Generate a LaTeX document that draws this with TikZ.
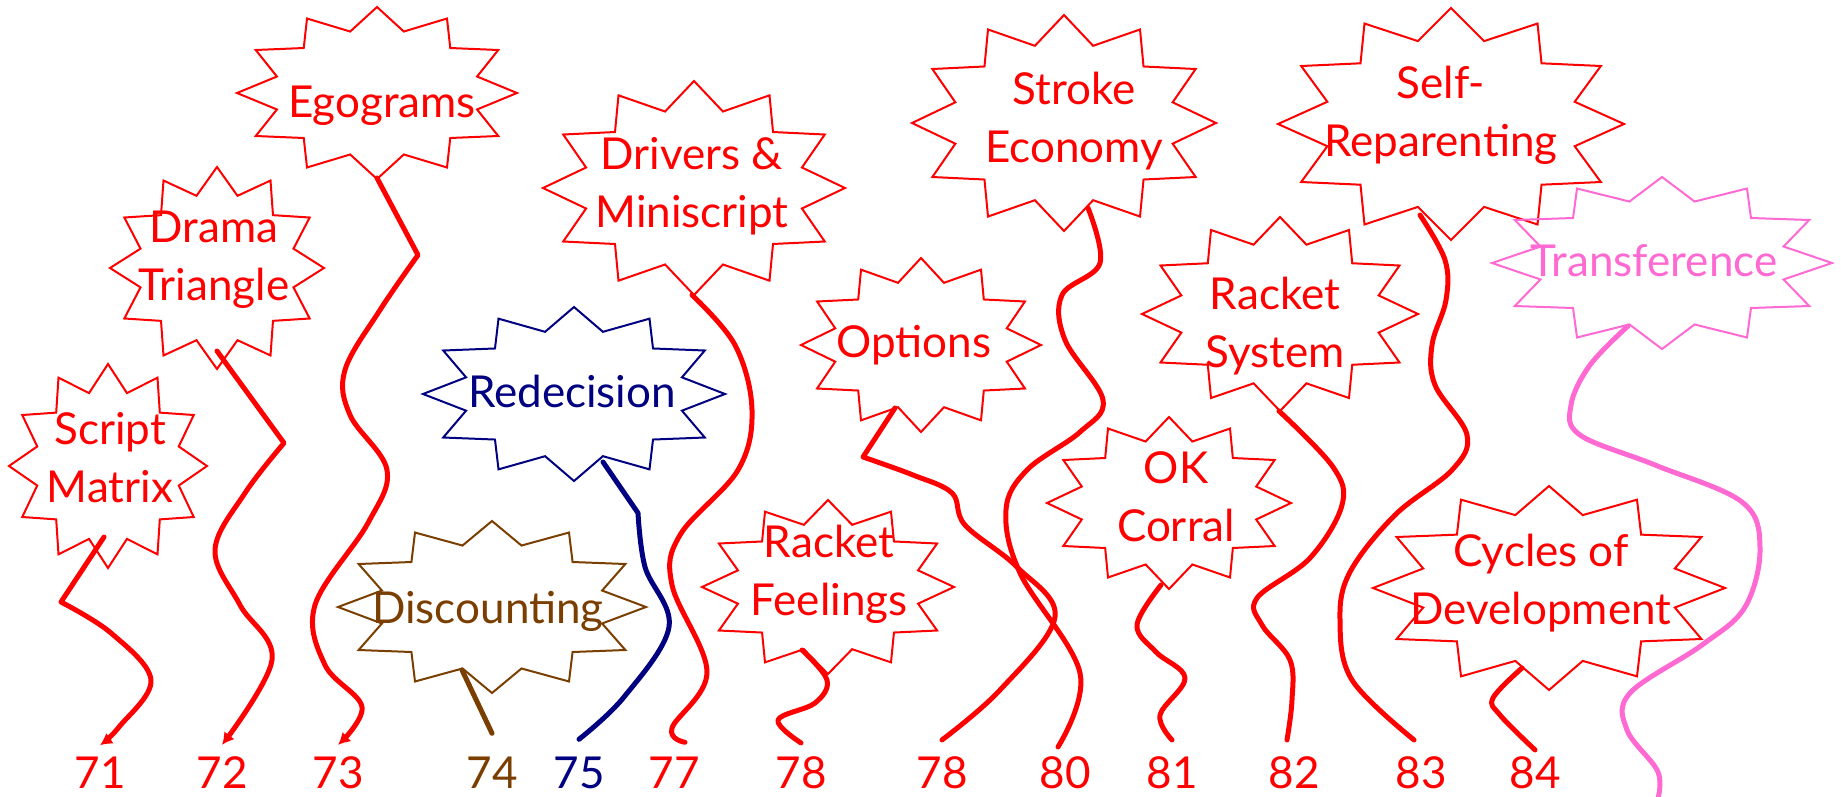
\documentclass[tikz,border=0pt]{standalone}
\usepackage{fontspec}
\setmainfont{Lato}
\usetikzlibrary{arrows.meta}

\definecolor{navyblue}{RGB}{0,0,128}
\definecolor{rustbrown}{RGB}{122,62,0}
\definecolor{candypink}{RGB}{255,105,210}

\tikzset{
  burstline/.style={line width=2pt, line join=miter},
  tail/.style={line width=5pt, line cap=round, line join=round},
  arrowed/.style={-{Latex[length=12pt,width=13pt]}},
  burstlbl/.style={font=\fontsize{44}{58}\selectfont, align=center, anchor=base, inner sep=0pt},
  num/.style={font=\fontsize{44}{52}\selectfont, anchor=base, inner sep=0pt}
}

% twelve point burst: centre, x radius, y radius, colour
\newcommand{\burst}[4]{%
  \draw[burstline, #4, shift={(#1)}] (0:#2 and #3)
    \foreach \a in {15,45,...,345} {-- (\a:0.74*#2 and 0.74*#3) -- (\a+15:#2 and #3)} -- cycle;}

\begin{document}
\begin{tikzpicture}[x=1pt, y=-1pt]
  \useasboundingbox (0,0) rectangle (1841,796);

  % bursts
  \burst{108,466}{99}{102}{red}
  \burst{217,268}{107}{101}{red}
  \burst{377,93}{140}{86}{red}
  \burst{492,607}{154}{86}{rustbrown}
  \burst{574,394}{151}{87}{navyblue}
  \burst{694,188}{151}{107}{red}
  \burst{828,587}{126}{87}{red}
  \burst{921,345}{120}{87}{red}
  \burst{1064,123}{152}{108}{red}
  \burst{1169,503}{122}{86}{red}
  \burst{1280,314}{138}{97}{red}
  \burst{1451,124}{173}{116}{red}
  \burst{1549,588}{176}{102}{red}
  \burst{1662,263}{170}{86}{candypink}

  % texts (anchored on the last baseline)
  \node[burstlbl, red] (sm) at (110,502) {Script\\Matrix};
  \node[burstlbl, red] (dt) at (214,300) {Drama\\Triangle};
  \node[burstlbl, red] (eg) at (382,117) {Egograms};
  \node[burstlbl, rustbrown] (dc) at (488,623) {Discounting};
  \node[burstlbl, navyblue] (rd) at (572,407) {Redecision};
  \node[burstlbl, red] (dm) at (692,227) {Drivers \&\\Miniscript};
  \node[burstlbl, red] (rf) at (829,615) {Racket\\Feelings};
  \node[burstlbl, red] (op) at (914,357) {Options};
  \node[burstlbl, red] (se) at (1074,162) {Stroke\\Economy};
  \node[burstlbl, red] (ok) at (1176,541) {OK\\Corral};
  \node[burstlbl, red] (rs) at (1275,367) {Racket\\System};
  \node[burstlbl, red] (sr) at (1441,156) {Self-\\Reparenting};
  \node[burstlbl, red] (cd) at (1541,624) {Cycles of\\Development};
  \node[burstlbl, candypink] (tr) at (1654,276) {Transference};

  % page numbers
  \node[num, red] (n71) at (100,788) {71};
  \node[num, red] (n72) at (222,788) {72};
  \node[num, red] (n73) at (338,788) {73};
  \node[num, rustbrown] (n74) at (492,788) {74};
  \node[num, navyblue] (n75) at (579,788) {75};
  \node[num, red] (n77) at (674,788) {77};
  \node[num, red] (n78a) at (801,788) {78};
  \node[num, red] (n78b) at (942,788) {78};
  \node[num, red] (n80) at (1065,788) {80};
  \node[num, red] (n81) at (1172,788) {81};
  \node[num, red] (n82) at (1294,788) {82};
  \node[num, red] (n83) at (1421,788) {83};
  \node[num, red] (n84) at (1535,788) {84};

  % tail starts
  \coordinate (sm-t) at (104,537);
  \coordinate (dt-t) at (217,351);
  \coordinate (eg-t) at (377,178);
  \coordinate (dc-t) at (462,670);
  \coordinate (rd-t) at (603,462);
  \coordinate (dm-t) at (692,295);
  \coordinate (rf-t) at (802,650);
  \coordinate (op-t) at (895,408);
  \coordinate (se-t) at (1088,208);
  \coordinate (ok-t) at (1161,585);
  \coordinate (rs-t) at (1279,411);
  \coordinate (sr-t) at (1420,215);
  \coordinate (cd-t) at (1522,668);
  \coordinate (tr-t) at (1628,326);
  \coordinate (tr-end) at (1657,802);

  % tails
  \draw[tail, arrowed, red] (sm-t) -- (61,602) --plot[smooth, tension=0.6] coordinates
    {(61,602) (111,633) (151,680) (119,727) ([yshift=11pt]n71.north)};
  \draw[tail, arrowed, red] (dt-t) -- (284,443) --plot[smooth, tension=0.6] coordinates
    {(284,443) (245,493) (215,550) (240,605) (272,660) ([yshift=11pt]n72.north)};
  \draw[tail, arrowed, red] (eg-t) -- (418,255) --plot[smooth, tension=0.6] coordinates
    {(418,255) (380,310) (345,370) (350,415) (387,470) (368,523) (315,605) (325,665) (362,707) ([yshift=11pt]n73.north)};
  \draw[tail, rustbrown] (dc-t) -- ([yshift=23pt]n74.north);
  \draw[tail, navyblue] (rd-t) -- (638,513) --plot[smooth, tension=0.6] coordinates
    {(638,513) (645,567) (669,627) (624,697) ([yshift=17pt]n75.north)};
  \draw[tail, red] plot[smooth, tension=0.6] coordinates
    {(dm-t) (735,345) (752,410) (738,470) (680,535) (672,585) (707,672) (672,728) ([xshift=11pt,yshift=14pt]n77.north)};
  \draw[tail, red] plot[smooth, tension=0.6] coordinates
    {(rf-t) (827,680) (815,703) (778,720) ([yshift=13pt]n78a.north)};
  \draw[tail, red] (op-t) -- (863,457) --plot[smooth, tension=0.6] coordinates
    {(863,457) (913,475) (952,493) (965,525) (1017,567) (1055,617) (1000,690) ([yshift=16pt]n78b.north)};
  \draw[tail, red] plot[smooth, tension=0.6] coordinates
    {(se-t) (1100,263) (1062,295) (1065,340) (1103,400) (1080,432) (1027,470) (1006,510) (1020,573) (1080,673) ([xshift=-7pt,yshift=9pt]n80.north)};
  \draw[tail, red] plot[smooth, tension=0.6] coordinates
    {(ok-t) (1137,625) (1156,652) (1185,678) (1160,715) ([yshift=16pt]n81.north)};
  \draw[tail, red] plot[smooth, tension=0.6] coordinates
    {(rs-t) (1333,467) (1342,505) (1310,558) (1257,598) (1262,625) (1290,660) (1292,700) ([xshift=-7pt,yshift=16pt]n82.north)};
  \draw[tail, red] plot[smooth, tension=0.6] coordinates
    {(sr-t) (1445,260) (1446,300) (1432,345) (1435,385) (1467,435) (1452,470) (1395,515) (1350,572) (1340,620) (1352,680) ([xshift=-7pt,yshift=16pt]n83.north)};
  \draw[tail, red] plot[smooth, tension=0.6] coordinates
    {(cd-t) (1493,698) (1500,715) ([yshift=6pt]n84.north)};
  \draw[tail, candypink] plot[smooth, tension=0.6] coordinates
    {(tr-t) (1590,365) (1571,405) (1580,435) (1655,465) (1742,502) (1760,548) (1745,607) (1702,645) (1630,693) (1627,730) (1658,772) (tr-end)};
\end{tikzpicture}
\end{document}
